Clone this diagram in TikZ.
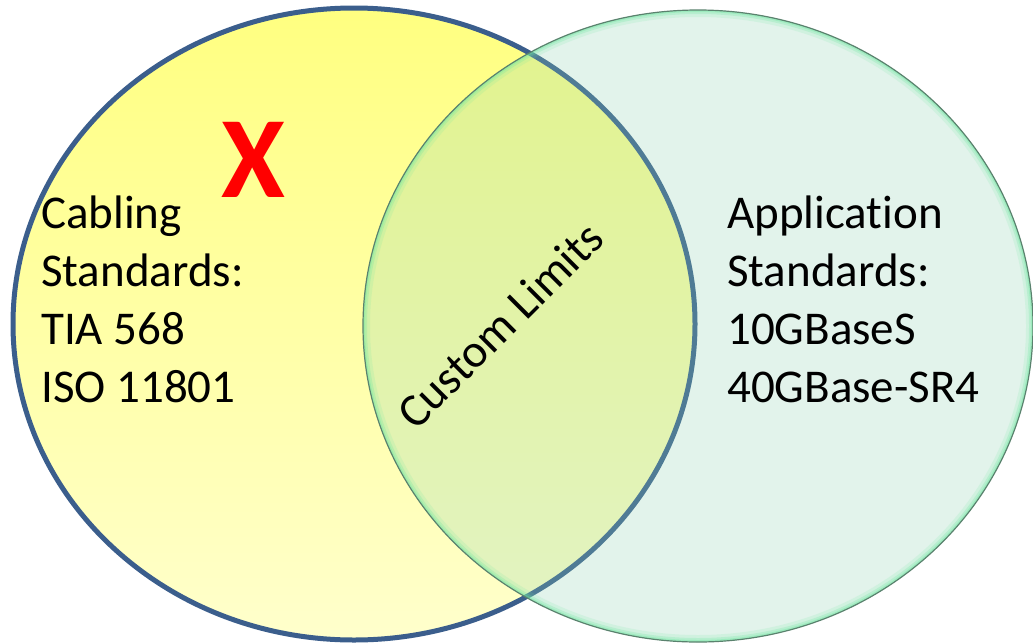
\documentclass[tikz,border=0pt]{standalone}
\usepackage{fontspec}
\setmainfont{Carlito}[Ligatures=NoCommon]
\definecolor{ylTop}{RGB}{255,255,128}
\definecolor{ylBot}{RGB}{255,255,204}
\definecolor{blueEdge}{RGB}{59,94,140}
\definecolor{mintFill}{RGB}{140,210,177}
\definecolor{mintGlow}{RGB}{110,230,160}
\definecolor{mintLine}{RGB}{90,130,110}
\begin{document}
\begin{tikzpicture}[x=1pt,y=-1pt]
\tikzset{
  lbl/.style={font=\fontsize{47}{58}\selectfont, align=left, inner sep=0pt, anchor=base west},
  leftshape/.style={x radius=341, y radius=316},
  rightshape/.style={x radius=335, y radius=316}
}
\useasboundingbox (0,0) rectangle (1033,643);
\fill[white] (0,0) rectangle (1033,643);
% left ellipse
\path[top color=ylTop, bottom color=ylBot] (354,324) ellipse [leftshape];
\draw[blueEdge, line width=5pt] (354,324) ellipse [leftshape];
% right ellipse
\fill[mintFill, fill opacity=0.25] (698,326) ellipse [rightshape];
\begin{scope}
  \clip (698,326) ellipse [rightshape];
  \draw[mintGlow, line width=14pt, opacity=0.15] (698,326) ellipse [rightshape];
  \draw[mintGlow, line width=8pt, opacity=0.25] (698,326) ellipse [rightshape];
  \draw[mintGlow, line width=4pt, opacity=0.35] (698,326) ellipse [rightshape];
\end{scope}
\draw[mintLine, line width=1.2pt] (698,326) ellipse [rightshape];
% texts (base anchor = baseline of last line)
\node[lbl] (cab) at (41,402) {Cabling\\Standards:\\TIA 568\\ISO 11801};
\node[lbl] (app) at (727,402) {Application\\Standards:\\10GBaseS\\40GBase-SR4};
\node[font=\fontsize{47}{56}\selectfont, rotate=45, inner sep=0pt] (cus) at (500,325) {Custom Limits};
\node[font=\fontsize{116}{120}\selectfont\bfseries, text=red, inner sep=0pt] (xmark) at (253,160) {X};
\end{tikzpicture}
\end{document}
